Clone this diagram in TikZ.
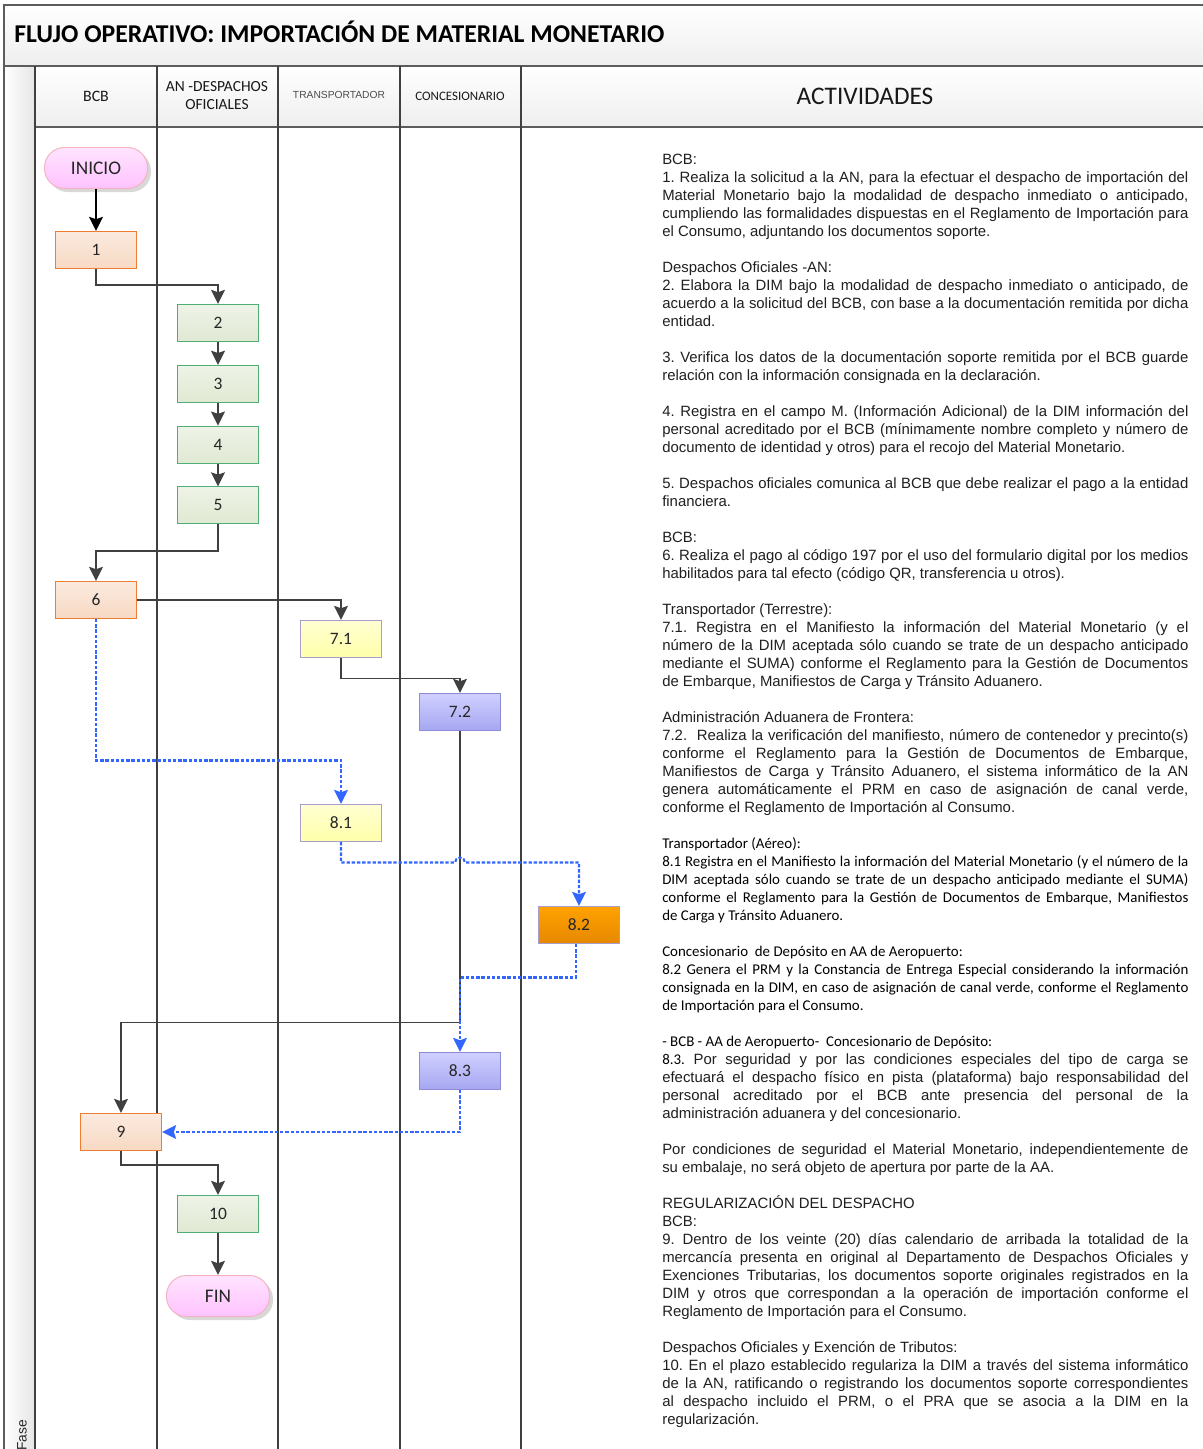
\documentclass[tikz,border=0pt]{standalone}
\usepackage{fontspec}
\setmainfont{Liberation Sans}
\newfontfamily\calibri{Carlito}
\frenchspacing
\usetikzlibrary{arrows.meta,shadows}

\definecolor{linea}{HTML}{404040}
\definecolor{marco}{HTML}{5C5C5C}
\definecolor{azul}{HTML}{3366FF}
\definecolor{bcbborde}{HTML}{ED7D31}
\definecolor{bcbalto}{HTML}{FBEADF}
\definecolor{bcbbajo}{HTML}{F7D9C3}
\definecolor{anborde}{HTML}{4FAE74}
\definecolor{analto}{HTML}{EEF3E7}
\definecolor{anbajo}{HTML}{E0E9D3}
\definecolor{lila}{HTML}{A99DCB}
\definecolor{amaralto}{HTML}{FFFFD2}
\definecolor{amarbajo}{HTML}{FFFFAA}
\definecolor{concborde}{HTML}{8E8AD6}
\definecolor{concalto}{HTML}{D0D0FF}
\definecolor{concbajo}{HTML}{A6A6F2}
\definecolor{naralto}{HTML}{FFA200}
\definecolor{narbajo}{HTML}{E68800}
\definecolor{rosaborde}{HTML}{F4B3BE}
\definecolor{rosaalto}{HTML}{FFE4FF}
\definecolor{rosabajo}{HTML}{FFC2FF}

\begin{document}
\begin{tikzpicture}[x=0.025cm,y=0.025cm,node distance=1.52cm,>={Stealth[length=10pt,width=9.8pt,inset=1.6pt]}]

  \tikzstyle{paso}=[rectangle,minimum width=2.025cm,minimum height=0.925cm,line width=0.7pt,text=black!85,font=\calibri\fontsize{12.4}{14}\selectfont]
  \tikzstyle{bcb}=[paso,draw=bcbborde,top color=bcbalto,bottom color=bcbbajo]
  \tikzstyle{an}=[paso,draw=anborde,top color=analto,bottom color=anbajo]
  \tikzstyle{transp}=[paso,draw=lila,top color=amaralto,bottom color=amarbajo]
  \tikzstyle{conces}=[paso,draw=concborde,top color=concalto,bottom color=concbajo]
  \tikzstyle{naranja}=[paso,draw=lila,top color=naralto,bottom color=narbajo]
  \tikzstyle{extremo}=[rectangle,rounded corners=0.5cm,minimum width=2.575cm,minimum height=1.025cm,line width=0.7pt,draw=rosaborde,top color=rosaalto,bottom color=rosabajo,text=black!85,font=\calibri\fontsize{13.7}{16}\selectfont,drop shadow={shadow xshift=2.5pt,shadow yshift=-2.5pt,opacity=0.3,fill=gray}]
  \tikzstyle{flecha}=[->,draw=linea,line width=1.4pt]
  \tikzstyle{inicial}=[->,draw=black,line width=1.7pt]
  \tikzstyle{enlace}=[->,draw=azul,line width=1.5pt,dash pattern=on 2.4pt off 1.3pt]
  \tikzstyle{carril}=[draw=linea,line width=1.2pt]
  \tikzstyle{cabecera}=[inner sep=0pt,text=black!90,font=\calibri\fontsize{11.3}{12.8}\selectfont]
  \tikzstyle{actividad}=[anchor=base west,inner sep=0pt,text width=13.15cm,align=justify,text=black!88,font=\fontsize{10.6}{12.8}\selectfont]
  \tikzstyle{actividadc}=[actividad,text=black,font=\calibri\fontsize{10.6}{12.8}\selectfont]

  \useasboundingbox (0,0) rectangle (1203,-1449);
  \clip (0,0) rectangle (1203,-1449);
  \fill[white] (0,0) rectangle (1203,-1449);

  % marco, titulo y cabecera
  \shade[top color=white,bottom color=gray!13] (4,-5) rectangle (1209,-66);
  \shade[left color=white,right color=gray!20] (4,-66) rectangle (35,-1460);
  \shade[top color=white,bottom color=gray!13] (35,-66) rectangle (1209,-127);
  \draw[marco,line width=1.4pt] (4,-5) rectangle (1209,-1460);
  \draw[marco,line width=1.2pt] (4,-66) -- (1209,-66) (35,-127) -- (1209,-127);
  \draw[carril] (35,-66) -- (35,-1460) (157,-66) -- (157,-1460) (278,-66) -- (278,-1460)
                (400,-66) -- (400,-1460) (521,-66) -- (521,-1460);

  \node [anchor=base west,inner sep=0pt,font=\calibri\bfseries\fontsize{18.25}{22}\selectfont] (titulo) at (14,-42.5) {FLUJO OPERATIVO: IMPORTACIÓN DE MATERIAL MONETARIO};
  \node [cabecera] (hbcb) at (96,-96) {BCB};
  \node [cabecera,align=center,font=\calibri\fontsize{11}{12.8}\selectfont] (han) at (217,-96) {AN -DESPACHOS\\OFICIALES};
  \node [inner sep=0pt,text=black!70,font=\fontsize{7.3}{9}\selectfont] (htransp) at (339,-95) {TRANSPORTADOR};
  \node [cabecera,font=\calibri\fontsize{9.2}{11}\selectfont] (hconces) at (460,-96) {CONCESIONARIO};
  \node [cabecera,font=\calibri\fontsize{18}{22}\selectfont] (hact) at (865,-96) {ACTIVIDADES};
  \node [anchor=base west,rotate=90,inner sep=0pt,text=black!85,font=\fontsize{9.8}{12}\selectfont] (fase) at (26.5,-1451) {Fase};

  % pasos del flujo
  \node [extremo] (inicio) at (96,-168)   {INICIO};
  \node [bcb]     (n1)     at (96,-250)   {1};
  \node [an]      (n2)     at (218,-323)  {2};
  \node [an]      (n3)     [below of=n2]  {3};
  \node [an]      (n4)     [below of=n3]  {4};
  \node [an]      (n5)     [below of=n4]  {5};
  \node [bcb]     (n6)     at (96,-600)   {6};
  \node [transp]  (n71)    at (341,-639)  {7.1};
  \node [conces]  (n72)    at (460,-712)  {7.2};
  \node [transp]  (n81)    at (341,-823)  {8.1};
  \node [naranja] (n82)    at (579,-925)  {8.2};
  \node [conces]  (n83)    at (460,-1071) {8.3};
  \node [bcb]     (n9)     at (121,-1132) {9};
  \node [an]      (n10)    at (218,-1214) {10};
  \node [extremo] (fin)    at (218,-1296) {FIN};

  \draw [inicial] (inicio) -- (n1);
  \draw [flecha] (n1.south) -- ++(0,-16) -| (n2.north);
  \draw [flecha] (n2) -- (n3);
  \draw [flecha] (n3) -- (n4);
  \draw [flecha] (n4) -- (n5);
  \draw [flecha] (n5.south) -- ++(0,-27) -| (n6.north);
  \draw [flecha] (n6.east) -| (n71.north);
  \draw [flecha] (n71.south) -- ++(0,-20.5) -| (n72.north);
  \draw [flecha] (n72.south) -- ++(0,-291.5) -| (n9.north);
  \draw [flecha] (n9.south) -- ++(0,-14) -| (n10.north);
  \draw [flecha] (n10) -- (fin);

  \draw [enlace] (n6.south) -- ++(0,-141.5) -| (n81.north);
  \draw [enlace] (n81.south) -- ++(0,-20.5) -- ++(114,0) arc (180:0:3.56pt) -| (n82.north);
  \draw [enlace] ([xshift=-2pt]n82.south) -- ++(0,-33.5) -| (n83.north);
  \draw [enlace] (n83.south) |- (n9.east);

  % actividades
  \node [actividad] (a1) at (662,-164) {BCB:\\
1. Realiza la solicitud a la AN, para la efectuar el despacho de importación del\linebreak
Material Monetario bajo la modalidad de despacho inmediato o anticipado,\linebreak
cumpliendo las formalidades dispuestas en el Reglamento de Importación para\linebreak
el Consumo, adjuntando los documentos soporte.};
  \node [actividad] (a2) at (662,-272) {Despachos Oficiales -AN:\\
2. Elabora la DIM bajo la modalidad de despacho inmediato o anticipado, de\linebreak
acuerdo a la solicitud del BCB, con base a la documentación remitida por dicha\linebreak
entidad.};
  \node [actividad] (a3) at (662,-362) {3. Verifica los datos de la documentación soporte remitida por el BCB guarde\linebreak
relación con la información consignada en la declaración.};
  \node [actividad] (a4) at (662,-416) {4. Registra en el campo M. (Información Adicional) de la DIM información del\linebreak
personal acreditado por el BCB (mínimamente nombre completo y número de\linebreak
documento de identidad y otros) para el recojo del Material Monetario.};
  \node [actividad] (a5) at (662,-488) {5. Despachos oficiales comunica al BCB que debe realizar el pago a la entidad\linebreak
financiera.};
  \node [actividad] (a6) at (662,-542) {BCB:\\
6. Realiza el pago al código 197 por el uso del formulario digital por los medios\linebreak
habilitados para tal efecto (código QR, transferencia u otros).};
  \node [actividad] (a7) at (662,-614) {Transportador (Terrestre):\\
7.1. Registra en el Manifiesto la información del Material Monetario (y el\linebreak
número de la DIM aceptada sólo cuando se trate de un despacho anticipado\linebreak
mediante el SUMA) conforme el Reglamento para la Gestión de Documentos\linebreak
de Embarque, Manifiestos de Carga y Tránsito Aduanero.};
  \node [actividad] (a8) at (662,-722) {Administración Aduanera de Frontera:\\
7.2.\ \ Realiza la verificación del manifiesto, número de contenedor y precinto(s)\linebreak
conforme el Reglamento para la Gestión de Documentos de Embarque,\linebreak
Manifiestos de Carga y Tránsito Aduanero, el sistema informático de la AN\linebreak
genera automáticamente el PRM en caso de asignación de canal verde,\linebreak
conforme el Reglamento de Importación al Consumo.};
  \node [actividadc] (a9) at (662,-848) {Transportador (Aéreo):\\
8.1 Registra en el Manifiesto la información del Material Monetario (y el número de la\linebreak
DIM aceptada sólo cuando se trate de un despacho anticipado mediante el SUMA)\linebreak
conforme el Reglamento para la Gestión de Documentos de Embarque, Manifiestos\linebreak
de Carga y Tránsito Aduanero.};
  \node [actividadc] (a10) at (662,-956) {Concesionario\ \ de Depósito en AA de Aeropuerto:\\
8.2 Genera el PRM y la Constancia de Entrega Especial considerando la información\linebreak
consignada en la DIM, en caso de asignación de canal verde, conforme el Reglamento\linebreak
de Importación para el Consumo.};
  \node [actividad] (a11) at (662,-1046) {{\calibri\color{black} - BCB - AA de Aeropuerto-\ \ Concesionario de Depósito:}\\
{\calibri\color{black} 8.3.} Por seguridad y por las condiciones especiales del tipo de carga se\linebreak
efectuará el despacho físico en pista (plataforma) bajo responsabilidad del\linebreak
personal acreditado por el BCB ante presencia del personal de la\linebreak
administración aduanera y del concesionario.};
  \node [actividad] (a12) at (662,-1154) {Por condiciones de seguridad el Material Monetario, independientemente de\linebreak
su embalaje, no será objeto de apertura por parte de la AA.};
  \node [actividad] (a13) at (662,-1208) {REGULARIZACIÓN DEL DESPACHO\\
BCB:\\
9. Dentro de los veinte (20) días calendario de arribada la totalidad de la\linebreak
mercancía presenta en original al Departamento de Despachos Oficiales y\linebreak
Exenciones Tributarias, los documentos soporte originales registrados en la\linebreak
DIM y otros que correspondan a la operación de importación conforme el\linebreak
Reglamento de Importación para el Consumo.};
  \node [actividad] (a14) at (662,-1352) {Despachos Oficiales y Exención de Tributos:\\
10. En el plazo establecido regulariza la DIM a través del sistema informático\linebreak
de la AN, ratificando o registrando los documentos soporte correspondientes\linebreak
al despacho incluido el PRM, o el PRA que se asocia a la DIM en la\linebreak
regularización.};

\end{tikzpicture}
\end{document}
